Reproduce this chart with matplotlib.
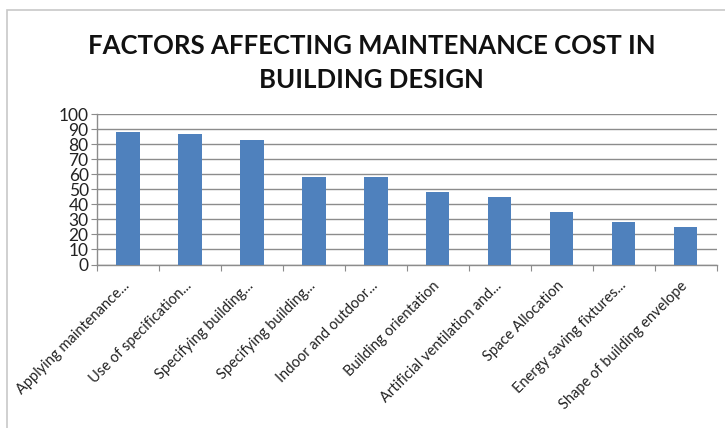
import numpy as np
import matplotlib
matplotlib.use("Agg")
import matplotlib.pyplot as plt
import matplotlib.transforms as mtransforms
from matplotlib.patches import Rectangle

categories = [
    "Applying maintenance...",
    "Use of specification...",
    "Specifying building...",
    "Specifying building...",
    "Indoor and outdoor...",
    "Building orientation",
    "Artificial ventilation and...",
    "Space Allocation",
    "Energy saving fixtures...",
    "Shape of building envelope",
]
values = [88, 87, 83, 58, 58, 48, 45, 35, 28, 25]
y_ticks = list(range(0, 101, 10))
title = "FACTORS AFFECTING MAINTENANCE COST IN\nBUILDING DESIGN"

bar_color = "#4f81bd"
grid_color = "#8c8c8c"

plt.rcParams["font.family"] = ["Lato", "DejaVu Sans"]

fig = plt.figure(figsize=(7.25, 4.28), dpi=100)
fig.patch.set_facecolor("white")

# outer chart frame (partly cropped in the reference)
fig.patches.append(Rectangle((7 / 725, -0.1), 1.2, 1 - 10 / 428 + 0.1,
                             transform=fig.transFigure, fill=False,
                             edgecolor="#c8c8c8", linewidth=1.2))

ax = fig.add_axes([97 / 725, 1 - 264.5 / 428, (716.5 - 97) / 725, 150.5 / 428])

x = np.arange(len(categories))
ax.bar(x, values, width=0.38, color=bar_color, zorder=3)

ax.set_xlim(-0.5, len(categories) - 0.5)
ax.set_ylim(0, 100)
ax.set_yticks(y_ticks)
ax.yaxis.grid(True, color=grid_color, linewidth=1.0)
ax.set_axisbelow(True)

for side in ["top", "right"]:
    ax.spines[side].set_visible(False)
for side in ["left", "bottom"]:
    ax.spines[side].set_color(grid_color)
    ax.spines[side].set_linewidth(1.0)

ax.tick_params(axis="y", length=4, color=grid_color, labelsize=12.5,
               labelcolor="#222222", pad=2)

# x ticks sit between the categories, labels at the centres
ax.set_xticks(np.arange(-0.5, len(categories) + 0.5, 1))
ax.set_xticklabels([])
ax.tick_params(axis="x", length=4, color=grid_color)
ax.set_xticks(x, minor=True)
ax.set_xticklabels(categories, minor=True, rotation=45, ha="right",
                   va="center", rotation_mode="anchor", fontsize=10.5,
                   color="#222222")
ax.tick_params(axis="x", which="minor", length=0, pad=0)

offset = mtransforms.ScaledTranslation(0 / 100, -19 / 100, fig.dpi_scale_trans)
for lab in ax.get_xticklabels(minor=True):
    lab.set_transform(lab.get_transform() + offset)

fig.text(0.513, 1 - 63 / 428, title, ha="center", va="center",
         fontsize=18.5, fontweight="bold", color="#111111", linespacing=1.45)

plt.savefig("out.png", dpi=100)
plt.close()
